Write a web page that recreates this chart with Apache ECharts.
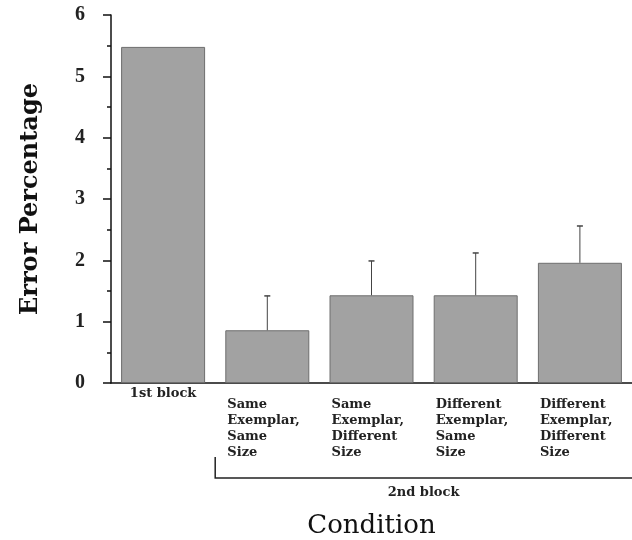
<!DOCTYPE html>
<html><head><meta charset="utf-8">
<script src="https://cdn.jsdelivr.net/npm/echarts@6/dist/echarts.min.js"></script>
<style>html,body{margin:0;padding:0;background:#fff}#c{width:632px;height:540px}</style>
</head><body><div id="c"></div>
<script>
const categories = ['1st block', 'Same\nExemplar,\nSame\nSize', 'Same\nExemplar,\nDifferent\nSize', 'Different\nExemplar,\nSame\nSize', 'Different\nExemplar,\nDifferent\nSize'];
const errorPct = [5.48, 0.86, 1.43, 1.43, 1.96];
const errorUpper = [null, 1.42, 1.99, 2.12, 2.56];
const yTicks = [0, 1, 2, 3, 4, 5, 6];
const groupLabel = '2nd block';

const chart = echarts.init(document.getElementById('c'));
const serif = '"Liberation Serif", "Times New Roman", serif';
const dserif = '"DejaVu Serif", serif';
const catData = categories.map((c, i) => i === 0
  ? { value: c, textStyle: { align: 'center', padding: [0, 0, 0, 0] } }
  : { value: c, textStyle: { padding: [10, 0, 0, 0] } });

const errData = [];
errorUpper.forEach((u, i) => { if (u !== null) errData.push([i, errorPct[i], u]); });

chart.setOption({
  animation: false,
  grid: { left: 111, right: 0, top: 15, bottom: 157, containLabel: false, outerBoundsMode: 'none' },
  xAxis: {
    type: 'category', data: catData,
    axisLine: { lineStyle: { color: '#111', width: 1.5 } },
    axisTick: { show: false },
    axisLabel: {
      interval: 0, margin: 4,
      formatter: (v, i) => i === 0 ? '{b|' + v + '}' : v.split('\n').map(s => '{a|' + s + '}').join('\n'),
      rich: {
        a: { fontFamily: dserif, fontWeight: 'bold', fontSize: 13, lineHeight: 16, width: 80, align: 'left', color: '#222' },
        b: { fontFamily: dserif, fontWeight: 'bold', fontSize: 13, lineHeight: 14, color: '#222' }
      }
    },
    name: 'Condition', nameLocation: 'middle', nameGap: 130,
    nameTextStyle: { fontFamily: dserif, fontSize: 26, color: '#111' }
  },
  yAxis: {
    type: 'value', min: 0, max: 6, interval: 1,
    axisLine: { show: true, lineStyle: { color: '#111', width: 1.5 } },
    axisTick: { show: true, length: 8, lineStyle: { color: '#111', width: 1.5 } },
    minorTick: { show: true, splitNumber: 2, length: 4, lineStyle: { color: '#111', width: 1.5 } },
    splitLine: { show: false },
    axisLabel: { margin: 26, fontFamily: serif, fontWeight: 'bold', fontSize: 20, color: '#222',
      formatter: v => yTicks.includes(v) ? String(v) : '' },
    name: 'Error Percentage', nameLocation: 'middle', nameGap: 68,
    nameTextStyle: { fontFamily: dserif, fontWeight: 'bold', fontSize: 24, color: '#111' }
  },
  series: [
    { type: 'bar', data: errorPct, barWidth: 84,
      itemStyle: { color: '#a2a2a2', borderColor: '#6e6e6e', borderWidth: 1 } },
    { type: 'custom', data: errData, z: 5,
      renderItem: (params, api) => {
        const x = api.value(0);
        const p0 = api.coord([x, api.value(1)]);
        const p1 = api.coord([x, api.value(2)]);
        return { type: 'group', children: [
          { type: 'line', shape: { x1: p0[0], y1: p0[1], x2: p1[0], y2: p1[1] }, style: { stroke: '#444', lineWidth: 1 } },
          { type: 'line', shape: { x1: p1[0] - 3, y1: p1[1], x2: p1[0] + 3, y2: p1[1] }, style: { stroke: '#444', lineWidth: 1.5 } }
        ] };
      } }
  ]
});

const c0 = chart.convertToPixel({ xAxisIndex: 0 }, 0);
const c1 = chart.convertToPixel({ xAxisIndex: 0 }, 1);
const c4 = chart.convertToPixel({ xAxisIndex: 0 }, 4);
const band = c1 - c0;
const left = (c0 + c1) / 2, right = c4 + band / 2;
const yb = chart.convertToPixel({ yAxisIndex: 0 }, 0);
chart.setOption({
  graphic: [
    { type: 'polyline', shape: { points: [[left, yb + 74], [left, yb + 95], [right, yb + 95]] }, style: { stroke: '#222', lineWidth: 1.5, fill: null } },
    { type: 'text', x: (left + right) / 2, y: yb + 110, style: { text: groupLabel, fontFamily: dserif, fontWeight: 'bold', fontSize: 13, fill: '#222', align: 'center', verticalAlign: 'middle' } }
  ]
});
</script></body></html>
